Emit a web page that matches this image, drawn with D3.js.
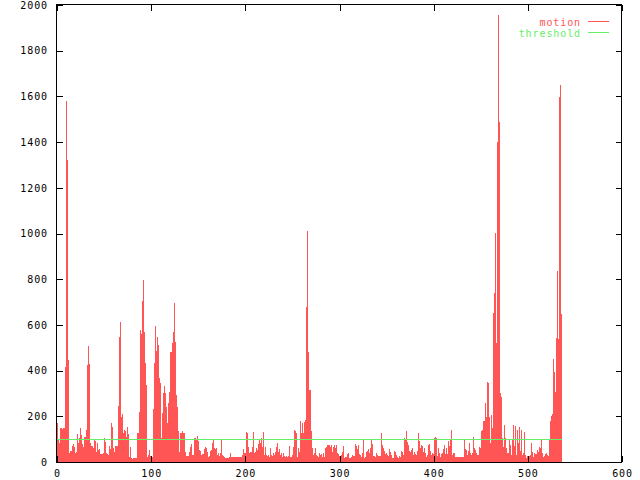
<!DOCTYPE html>
<html><head><meta charset="utf-8">
<script src="https://cdn.jsdelivr.net/npm/d3@7"></script>
<style>html,body{margin:0;padding:0;background:#fff;} svg{display:block;}</style>
</head><body>
<svg id="chart" width="640" height="480"></svg>
<script>
// motion value per frame index 0..535
const motionA = [172,96,85,150,147,144,149,150,293,417,1580,1322,446,
 38,48,48,71,79,67,41,42,122,82,106,150,118,67,79,64,111,108,140,
 424,509,429,
 85,70,71,60,96,92,45,85,74,53,55,35,35,35,40,104,89,41,35,31,71,57,169,155,60,34,42,71,71,71,
 245,546,613,196,
 210,125,140,134,111,155,121,23,23,67,16,13,19,19,19,19,125,125,
 219,578,559,705,797,570,432,337,318,
 23,31,53,26,23,20,233,435,595,487,549,512,366,347,
 104,60,216,303,333,303,242,172,260,306,483,480,522,569,694,
 527,292,242,125,137,45,128,125,136,128,125,45,26,26];
const motionB = [26,45,
 67,77,31,31,31,107,107,102,114,92,53,50,31,35,35,55,67,60,44,23,26,30,
 50,53,85,96,60,55,60,31,38,26,38,96,31,26,23,16,18,18,18,18,20,38,23,23,23,23,
 23,23,23,23,23,23,23,31,35,55,38,38,131,125,67,38,45,45,64,131,38,45,
 60,53,77,60,96,85,104,67,131,31,67,31,26,31,23,60,31,26,38,31,
 45,26,67,82,45,55,31,38,23,38,26,
 20,26,20,26,70,23,20,23,31,67,140,137,125,23,60,45,
 179,125,172,125,177,184,680,640,1011,483,315,315,136,
 60,31,38,60,31,26,23,40,31,35,23,31,38,23,60,64,74,74,74,
 67,74,42,67,74,60,74,38,34,28];
const motionC = [23,23,31,42,71,16,20,23,34,38,19,19,23,31,25,
 28,79,71,38,57,74,34,31,23,38,98,19,23,42,48,55,40,
 60,98,79,28,28,28,23,38,31,28,28,28,127,74,60,48,34,38,30,
 28,23,57,42,31,19,19,48,42,31,23,19,25,
 23,48,42,31,86,107,98,136,86,74,48,42,53,60,31,42,35,
 31,48,128,92,42,60,74,71,42,60,38,23,31,74,77,48,30,
 38,34,107,111,107,60,28,60,
 38,23,35,41,55,74,35,60,35,93,70,96,140,31,38,35,41,23,23,23,
 23,23,23,20,20,23,96,55,53,31,50,45,85,38,31,41,108,60,53,38,31,31,67,60];
const motionD = [137,140,181,181,257,155,196,352,347,198,82,206,150,654,738,1001,522,1402,1957,1490,
 303,283,125,104,67,162,104,60,38,41,96,74,31,96,162,70,158,31,140,85,
 85,155,50,140,31,41,130,31,16,26,23,26,31,85,45,23,16,38,35,35,
 53,45,67,60,99,38,23,26,35,38,31,26,31,99,
 181,203,209,451,395,308,544,836,540,1599,1650,648];
const motion = motionA.concat(motionB, motionC, motionD);
const thresholdValue = 100;
const xTicks = [0,100,200,300,400,500,600];
const yTicks = [0,200,400,600,800,1000,1200,1400,1600,1800,2000];
const seriesNames = ["motion", "threshold"];

const RED = "#ff5555", GREEN = "#66ee66";
const FONT = "'DejaVu Sans Mono', monospace";
const FS = "10px", LS = "0.9px";
const svg = d3.select("#chart");
const x = d3.scaleLinear().domain([0, 600]).range([57, 622]);
const y = d3.scaleLinear().domain([0, 2000]).range([462, 5]);

// bars
svg.append("g").attr("shape-rendering", "crispEdges").selectAll("rect").data(motion).join("rect")
  .attr("x", (d, i) => Math.round(x(i)))
  .attr("width", (d, i) => Math.max(1, Math.round(x(i + 1)) - Math.round(x(i))))
  .attr("y", d => Math.round(y(d)))
  .attr("height", d => Math.round(y(0)) - Math.round(y(d)))
  .attr("fill", RED);

// threshold line
const ty = Math.round(y(thresholdValue)) + 0.5;
svg.append("line")
  .attr("x1", Math.round(x(0))).attr("x2", Math.round(x(motion.length)))
  .attr("y1", ty).attr("y2", ty)
  .attr("stroke", GREEN).attr("stroke-width", 1).attr("shape-rendering", "crispEdges");

// axes
function styleAxis(g) {
  g.select(".domain").remove();
  g.selectAll("line").attr("stroke", "#000").attr("shape-rendering", "crispEdges");
  g.selectAll("text").attr("font-family", FONT).attr("font-size", FS)
    .attr("letter-spacing", LS).attr("fill", "#000");
}
const fmt = d3.format("d");
svg.append("g").attr("transform", "translate(57,0)")
  .call(d3.axisLeft(y).tickValues(yTicks).tickFormat(fmt).tickSizeInner(-6).tickSizeOuter(0).tickPadding(9))
  .call(styleAxis);
svg.append("g").attr("transform", "translate(622,0)")
  .call(d3.axisRight(y).tickValues(yTicks).tickSizeInner(-6).tickSizeOuter(0).tickFormat(""))
  .call(styleAxis);
svg.append("g").attr("transform", "translate(0,462)")
  .call(d3.axisBottom(x).tickValues(xTicks).tickFormat(fmt).tickSizeInner(-6).tickSizeOuter(0).tickPadding(8))
  .call(styleAxis);
svg.append("g").attr("transform", "translate(0,5)")
  .call(d3.axisTop(x).tickValues(xTicks).tickSizeInner(-6).tickSizeOuter(0).tickFormat(""))
  .call(styleAxis);

// border
svg.append("rect").attr("x", 56.5).attr("y", 4.5).attr("width", 565).attr("height", 457.5)
  .attr("fill", "none").attr("stroke", "#000").attr("stroke-width", 1).attr("shape-rendering", "crispEdges");

// legend
const legend = svg.append("g");
const legColors = [RED, GREEN];
seriesNames.forEach((name, i) => {
  const yy = 21.5 + i * 11;
  legend.append("text").attr("x", 581).attr("y", yy + 4)
    .attr("text-anchor", "end").attr("font-family", FONT).attr("font-size", FS)
    .attr("letter-spacing", LS).attr("fill", legColors[i]).text(name);
  legend.append("line").attr("x1", 588).attr("x2", 609).attr("y1", yy).attr("y2", yy)
    .attr("stroke", legColors[i]).attr("stroke-width", 1).attr("shape-rendering", "crispEdges");
});
</script>
</body></html>
